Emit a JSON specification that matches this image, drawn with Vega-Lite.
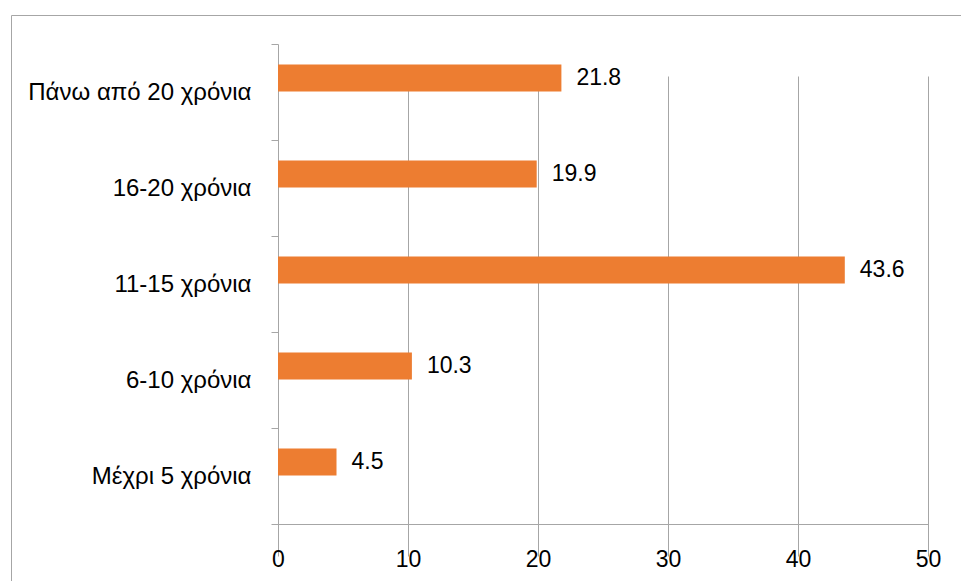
{
  "$schema": "https://vega.github.io/schema/vega-lite/v6.json",
  "width": 960,
  "height": 570,
  "autosize": {"type": "none"},
  "padding": {"left": 11, "top": 15, "right": 0, "bottom": 0},
  "background": "white",
  "data": {
    "values": [
      {"category": "Πάνω από 20 χρόνια", "value": 21.8},
      {"category": "16-20 χρόνια", "value": 19.9},
      {"category": "11-15 χρόνια", "value": 43.6},
      {"category": "6-10 χρόνια", "value": 10.3},
      {"category": "Μέχρι 5 χρόνια", "value": 4.5}
    ]
  },
  "encoding": {
    "y": {
      "field": "category",
      "type": "nominal",
      "sort": null,
      "scale": {"paddingInner": 0, "paddingOuter": 0, "range": [29, 509]},
      "axis": {
        "title": null,
        "offset": -267,
        "tickBand": "extent",
        "grid": false,
        "domainColor": "#A6A6A6",
        "tickColor": "#A6A6A6",
        "tickSize": 7,
        "labelPadding": 20,
        "labelFontSize": 24,
        "labelFont": "Liberation Sans",
        "labelColor": "#000000",
        "labelLimit": 300
      }
    },
    "x": {
      "field": "value",
      "type": "quantitative",
      "scale": {"domain": [0, 50], "nice": false, "range": [267, 917]},
      "axis": {
        "title": null,
        "offset": -61,
        "values": [0, 10, 20, 30, 40, 50],
        "labelFlush": false,
        "grid": true,
        "gridColor": "#A6A6A6",
        "domainColor": "#A6A6A6",
        "tickColor": "#A6A6A6",
        "tickSize": 7,
        "labelPadding": 17,
        "labelFontSize": 23,
        "labelFont": "Liberation Sans",
        "labelColor": "#000000"
      }
    }
  },
  "layer": [
    {
      "mark": {"type": "bar", "color": "#ED7D31", "height": 27, "yOffset": -14}
    },
    {
      "mark": {
        "type": "text",
        "align": "left",
        "baseline": "middle",
        "dx": 15,
        "yOffset": -14,
        "fontSize": 23,
        "font": "Liberation Sans",
        "color": "#000000"
      },
      "encoding": {"text": {"field": "value", "type": "quantitative", "format": ".1f"}}
    }
  ],
  "config": {"view": {"stroke": "#A6A6A6", "strokeWidth": 1}}
}
